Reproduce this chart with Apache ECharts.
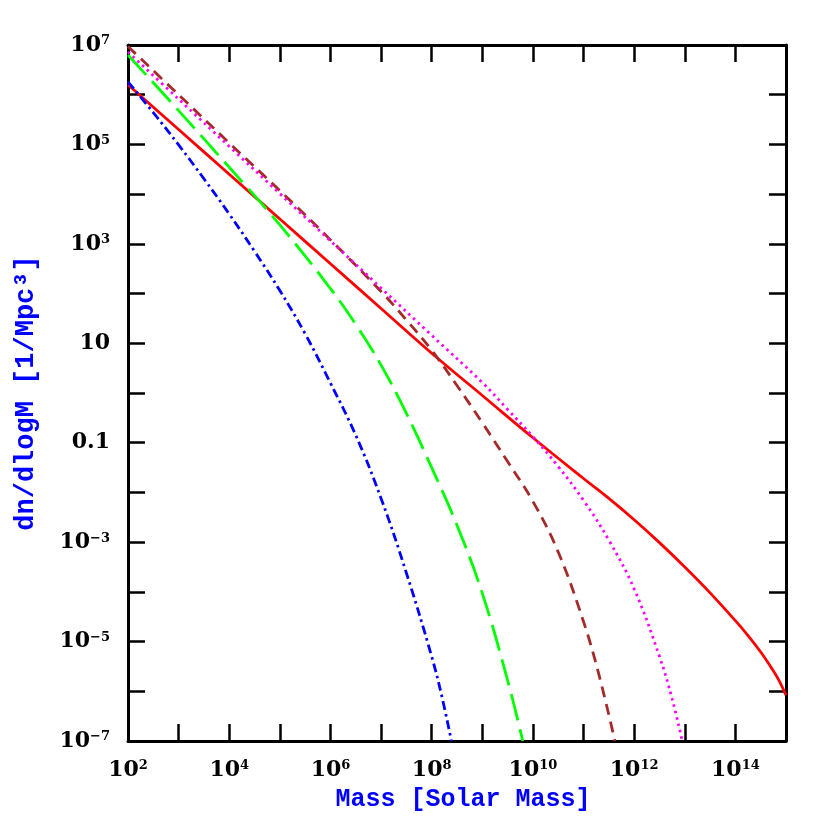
<!DOCTYPE html>
<html>
<head>
<meta charset="utf-8">
<script src="https://cdn.jsdelivr.net/npm/echarts@6/dist/echarts.min.js"></script>
<style>html,body{margin:0;padding:0;background:#fff}#c{width:830px;height:830px}</style>
</head>
<body>
<div id="c"></div>
<script>
// log10(Mass [Solar Mass]) and log10(dn/dlogM)
const redX = [2, 3, 4, 5, 6, 7, 8, 9, 10, 11, 11.5, 12, 12.5, 13, 13.5, 14, 14.25, 14.5, 14.7, 14.85, 15];
const redY = [6.20, 5.30, 4.40, 3.50, 2.60, 1.70, 0.80, -0.05, -0.90, -1.72, -2.12, -2.55, -3.01, -3.50, -4.02, -4.58, -4.88, -5.21, -5.51, -5.76, -6.08];

const blueX = [2, 2.5, 3, 3.5, 4, 4.5, 5, 5.5, 6, 6.5, 7, 7.5, 8, 8.2, 8.39];
const blueY = [6.26, 5.64, 4.99, 4.31, 3.60, 2.85, 2.06, 1.19, 0.20, -0.85, -2.12, -3.62, -5.30, -6.10, -7.00];

const greenX = [2, 3, 4, 5, 6, 6.5, 7, 7.5, 8, 8.5, 9, 9.5, 9.8];
const greenY = [6.80, 5.68, 4.54, 3.38, 2.10, 1.38, 0.56, -0.41, -1.50, -2.66, -4.03, -5.78, -7.00];

const brownX = [2, 3, 4, 5, 6, 7, 7.5, 8, 8.5, 9, 9.5, 10, 10.5, 11, 11.3, 11.62];
const brownY = [6.97, 6.00, 5.03, 4.07, 3.08, 2.04, 1.47, 0.86, 0.15, -0.60, -1.38, -2.18, -3.20, -4.60, -5.65, -7.00];

const magentaX = [2, 3, 4, 5, 6, 7, 8, 9, 9.5, 10, 10.5, 11, 11.5, 12, 12.5, 12.75, 12.95];
const magentaY = [6.86, 5.91, 4.96, 4.01, 3.06, 2.11, 1.16, 0.21, -0.33, -0.88, -1.48, -2.16, -2.96, -3.94, -5.30, -6.15, -7.00];

// tick labels
const xLabelExps = [2, 4, 6, 8, 10, 12, 14];
const yLabelValues = [7, 5, 3, 1, -1, -3, -5, -7];
const yLabelBase = ['10', '10', '10', '10', '0.1', '10', '10', '10'];
const yLabelSup = ['7', '5', '3', '', '', '\u22123', '\u22125', '\u22127'];

const xTitle = 'Mass [Solar Mass]';
const yTitle = 'dn/dlogM [1/Mpc\u00B3]';

function pairs(xs, ys) { return xs.map((x, i) => [x, ys[i]]); }

const rich = {
  b: { fontFamily: 'DejaVu Serif', fontWeight: 'bold', fontSize: 22, color: '#000', lineHeight: 26 },
  s: { fontFamily: 'DejaVu Serif', fontWeight: 'bold', fontSize: 13, color: '#000', padding: [0, 0, 8, 0] }
};

function xFmt(v) {
  const e = Math.round(v);
  if (xLabelExps.indexOf(e) < 0 || Math.abs(v - e) > 1e-6) return '';
  return '{b|10}{s|' + e + '}';
}
function yFmt(v) {
  const e = Math.round(v);
  const i = yLabelValues.indexOf(e);
  if (i < 0 || Math.abs(v - e) > 1e-6) return '';
  return '{b|' + yLabelBase[i] + '}' + (yLabelSup[i] ? '{s|' + yLabelSup[i] + '}' : '');
}

const lineAxis = { show: true, onZero: false, lineStyle: { color: '#000', width: 3 } };
const tick = { show: true, inside: true, length: 17, lineStyle: { color: '#000', width: 2.5 } };

const chart = echarts.init(document.getElementById('c'), null, { renderer: 'canvas' });
chart.setOption({
  backgroundColor: '#fff',
  animation: false,
  grid: { left: 128, top: 45, right: 44, bottom: 89 },
  xAxis: [
    {
      type: 'value', position: 'bottom', min: 2, max: 15, interval: 1,
      axisLine: lineAxis, axisTick: tick, splitLine: { show: false },
      axisLabel: { formatter: xFmt, rich: rich, margin: 16, showMinLabel: true, showMaxLabel: true, hideOverlap: false },
      name: xTitle, nameLocation: 'middle', nameGap: 46,
      nameTextStyle: { fontFamily: 'Liberation Mono', fontWeight: 'bold', fontSize: 25, color: '#0000ff', padding: [0, 0, 0, 12] }
    },
    {
      type: 'value', position: 'top', min: 2, max: 15, interval: 1,
      axisLine: lineAxis, axisTick: tick, splitLine: { show: false }, axisLabel: { show: false }
    }
  ],
  yAxis: [
    {
      type: 'value', position: 'left', min: -7, max: 7, interval: 1,
      axisLine: lineAxis, axisTick: tick, splitLine: { show: false },
      axisLabel: { formatter: yFmt, rich: rich, margin: 18, showMinLabel: true, showMaxLabel: true, hideOverlap: false },
      name: yTitle, nameLocation: 'middle', nameGap: 88, nameRotate: 90,
      nameTextStyle: { fontFamily: 'Liberation Mono', fontWeight: 'bold', fontSize: 27, color: '#0000ff' }
    },
    {
      type: 'value', position: 'right', min: -7, max: 7, interval: 1,
      axisLine: lineAxis, axisTick: tick, splitLine: { show: false }, axisLabel: { show: false }
    }
  ],
  series: [
    { type: 'line', data: pairs(redX, redY), showSymbol: false, smooth: 0.4, clip: true,
      lineStyle: { color: '#ff0000', width: 2.8, type: 'solid' }, z: 2 },
    { type: 'line', data: pairs(blueX, blueY), showSymbol: false, smooth: 0.4, clip: true,
      lineStyle: { color: '#0000ff', width: 2.8, type: [9, 4, 2.5, 4] }, z: 3 },
    { type: 'line', data: pairs(greenX, greenY), showSymbol: false, smooth: 0.4, clip: true,
      lineStyle: { color: '#00ff00', width: 2.8, type: [27, 9] }, z: 3 },
    { type: 'line', data: pairs(brownX, brownY), showSymbol: false, smooth: 0.4, clip: true,
      lineStyle: { color: '#a52a2a', width: 2.8, type: [11, 7] }, z: 3 },
    { type: 'line', data: pairs(magentaX, magentaY), showSymbol: false, smooth: 0.4, clip: true,
      lineStyle: { color: '#ff00ff', width: 2.8, type: [2.5, 4] }, z: 3 }
  ]
});
</script>
</body>
</html>
